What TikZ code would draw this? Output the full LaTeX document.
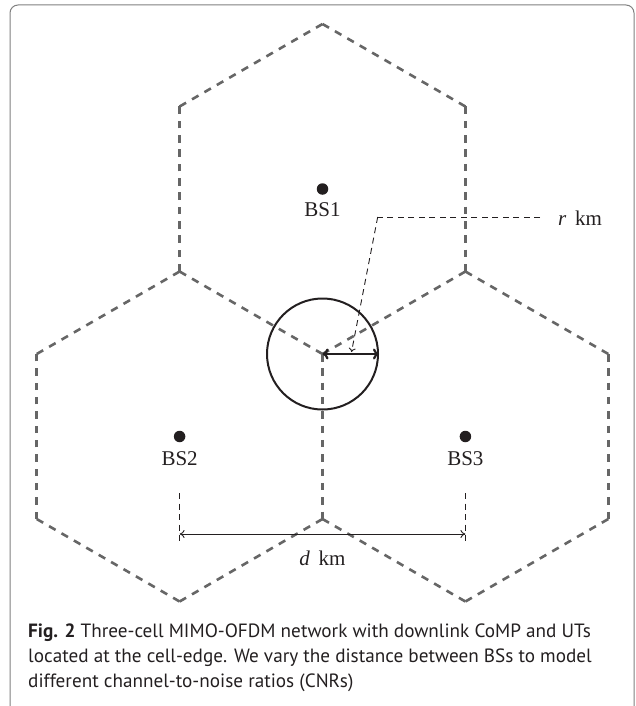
\documentclass[tikz,border=0pt]{standalone}
\usepackage{fontspec}
\setmainfont{Liberation Serif}
\newfontfamily\capfont{PT Sans}
\usetikzlibrary{arrows.meta}
\definecolor{cellgray}{RGB}{102,102,102}
\definecolor{ink}{RGB}{35,31,32}
\definecolor{framegray}{RGB}{128,128,128}

\begin{document}
\begin{tikzpicture}[x=1pt,y=-1pt,
  cell/.style={draw=cellgray, line width=2.6pt, dash pattern=on 7.5pt off 6.82pt},
  guide/.style={draw=ink, line width=0.9pt, dash pattern=on 6pt off 4.5pt},
  bsdot/.style={circle, fill=ink, inner sep=0pt, minimum size=11.5pt},
  lbl/.style={font=\fontsize{21}{24}\selectfont, text=ink, inner sep=0pt},
  captext/.style={font=\capfont\fontsize{19.2}{23}\selectfont, text=ink, inner sep=0pt, anchor=base west},
]
\useasboundingbox (0,0) rectangle (635,706);

% outer frame, open at the bottom
\draw[framegray, line width=1pt, rounded corners=8pt]
  (10,706) -- (10,5) -- (634,5) -- (634,706);

% hexagon vertices (circumradius 165)
\coordinate (T1) at (322.5,24);
\coordinate (T2) at (465.4,106.5);
\coordinate (T3) at (465.4,271.5);
\coordinate (J)  at (322.5,354);
\coordinate (T5) at (179.6,271.5);
\coordinate (T6) at (179.6,106.5);
\coordinate (K)  at (322.5,519);
\coordinate (L4) at (179.6,601.5);
\coordinate (L5) at (36.7,519);
\coordinate (L6) at (36.7,354);
\coordinate (R2) at (608.3,354);
\coordinate (R3) at (608.3,519);
\coordinate (R4) at (465.4,601.5);

% cell borders, each edge drawn on its own
\foreach \a/\b in {T1/T2,T2/T3,T3/J,J/T5,T5/T6,T6/T1,
                   J/K,K/L4,L4/L5,L5/L6,L6/T5,
                   T3/R2,R2/R3,R3/R4,R4/K}
  \draw[cell] (\a) -- (\b);

% base stations
\node[bsdot] (bs1) at (322.5,189) {};
\node[bsdot] (bs2) at (179.6,436.5) {};
\node[bsdot] (bs3) at (465.4,436.5) {};
\node[lbl] (bs1l) at (322.5,210) {BS1};
\node[lbl] (bs2l) at (179.6,459) {BS2};
\node[lbl] (bs3l) at (465.4,459) {BS3};

% cell-edge area and its radius
\node[circle, draw=ink, line width=2pt, inner sep=0pt, minimum size=111pt] (ue) at (J) {};
\draw[ink, line width=2.2pt, {To[length=6pt,width=11pt]}-{To[length=6pt,width=11pt]}] (J) -- (ue.east);

% radius label with its leader
\node[lbl] (rlab) at (580,218) {\textit{r}\, km};
\coordinate (rbend) at (377.7,217);
\coordinate (rend) at (540,217);
\coordinate (rtip) at (351.5,352);
\draw[guide] (rend) -- (rbend);
\draw[guide, -{To[length=4pt,width=7pt]}] (rbend) -- (rtip);

% inter-site distance
\coordinate (d1t) at (179.6,493);
\coordinate (d1b) at (179.6,543);
\coordinate (d2t) at (465.4,493);
\coordinate (d2b) at (465.4,543);
\coordinate (d1) at (179.6,534);
\coordinate (d2) at (465.4,534);
\draw[guide] (d1t) -- (d1b);
\draw[guide] (d2t) -- (d2b);
\draw[ink, line width=0.9pt, {To[length=5pt,width=8pt]}-{To[length=5pt,width=8pt]}] (d1) -- (d2);
\node[lbl] (dlab) at (322.5,558) {\textit{d}\, km};

% caption
\node[captext] (c1) at (28,637) {\textbf{Fig. 2} Three-cell MIMO-OFDM network with downlink CoMP and UTs};
\node[captext] (c2) at (28,662) {located at the cell-edge. We vary the distance between BSs to model};
\node[captext] (c3) at (28,687) {different channel-to-noise ratios (CNRs)};
\end{tikzpicture}
\end{document}
